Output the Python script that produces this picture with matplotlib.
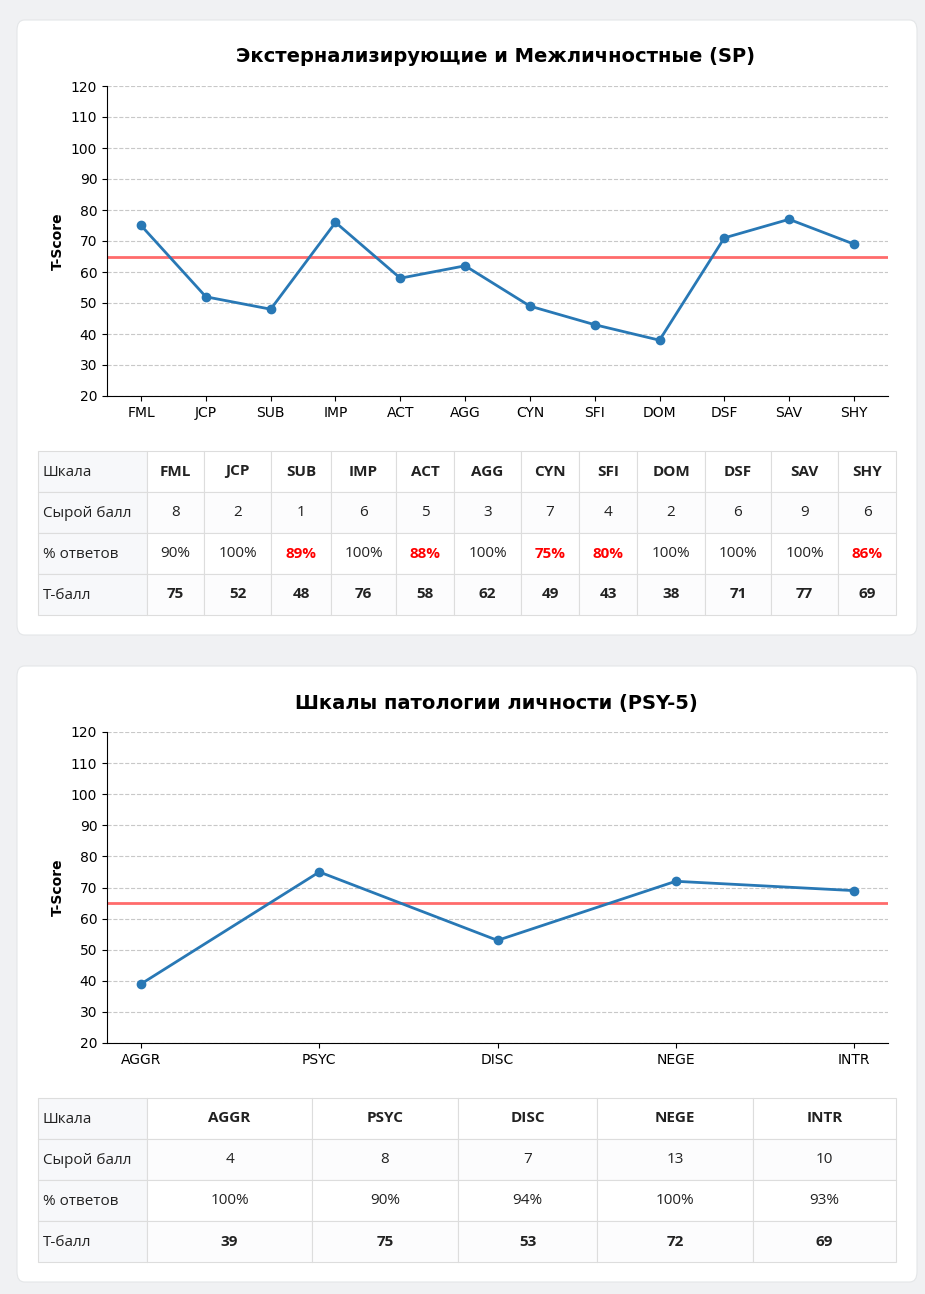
import matplotlib.pyplot as plt
from matplotlib.patches import FancyBboxPatch, Rectangle

W, H = 925, 1294

sp_scales = ['FML', 'JCP', 'SUB', 'IMP', 'ACT', 'AGG', 'CYN', 'SFI', 'DOM', 'DSF', 'SAV', 'SHY']
sp_raw = ['8', '2', '1', '6', '5', '3', '7', '4', '2', '6', '9', '6']
sp_pct = [90, 100, 89, 100, 88, 100, 75, 80, 100, 100, 100, 86]
sp_t = [75, 52, 48, 76, 58, 62, 49, 43, 38, 71, 77, 69]

psy_scales = ['AGGR', 'PSYC', 'DISC', 'NEGE', 'INTR']
psy_raw = ['4', '8', '7', '13', '10']
psy_pct = [100, 90, 94, 100, 93]
psy_t = [39, 75, 53, 72, 69]

row_labels = ['Шкала', 'Сырой балл', '% ответов', 'Т-балл']
red_pct = {'SUB', 'ACT', 'CYN', 'SFI', 'SHY'}

fig = plt.figure(figsize=(W / 100, H / 100), dpi=100)
fig.patch.set_facecolor('#f0f1f3')


def fx(x):
    return x / W


def fy(y):
    return 1 - y / H


def card(y0, y1):
    p = FancyBboxPatch((fx(17), fy(y1)), fx(900), (y1 - y0) / H,
                       boxstyle='round,pad=0,rounding_size=0.008',
                       transform=fig.transFigure, fc='white', ec='#e4e6e8', lw=0.8)
    fig.patches.append(p)


def chart(top, bottom, names, vals):
    ax = fig.add_axes([fx(107), fy(bottom), fx(888) - fx(107), (bottom - top) / H])
    ax.set_zorder(2)
    ax.patch.set_alpha(0)
    n = len(names)
    spacing = (852 - 141) / (n - 1)
    m = 34 / spacing
    ax.set_xlim(-m, n - 1 + m)
    ax.set_ylim(20, 120)
    ax.set_yticks(range(20, 121, 10))
    ax.set_xticks(range(n))
    ax.set_xticklabels(names)
    ax.grid(axis='y', ls='--', color='#c8c8c8', lw=0.8)
    ax.set_axisbelow(True)
    ax.axhline(65, color='#ff6b6b', lw=2)
    ax.plot(range(n), vals, color='#2878b5', lw=2, marker='o', ms=6)
    for s in ['top', 'right']:
        ax.spines[s].set_visible(False)
    ax.tick_params(labelsize=10)
    ax.set_ylabel('T-Score', fontsize=10, fontweight='bold')
    return ax


def table(top, cols, names, raw, pct, tvals, red):
    rh = 41
    tf = ['Open Sans', 'DejaVu Sans']
    for r in range(4):
        y = top + r * rh
        for c in range(len(cols) - 1):
            x0, x1 = cols[c], cols[c + 1]
            fc = '#f7f8fa' if (c == 0 or r in (1, 3)) else 'white'
            if c > 0 and r in (1, 3):
                fc = '#fcfcfd'
            fig.patches.append(Rectangle((fx(x0), fy(y + rh)), fx(x1 - x0), rh / H,
                                         transform=fig.transFigure, fc=fc,
                                         ec='#dddddd', lw=0.8))
            cx = (x0 + x1) / 2
            if c == 0:
                fig.text(fx(x0 + 5), fy(y + rh / 2 + 1), row_labels[r], fontsize=11,
                         va='center', ha='left', family=tf, color='#222222')
                continue
            i = c - 1
            color = '#222222'
            weight = 'normal'
            if r == 0:
                s = names[i]; weight = 'bold'
            elif r == 1:
                s = raw[i]
            elif r == 2:
                s = f'{pct[i]}%'
                if names[i] in red:
                    color = 'red'; weight = 'bold'
            else:
                s = str(tvals[i]); weight = 'bold'
            fig.text(fx(cx), fy(y + rh / 2), s, fontsize=11, va='center', ha='center',
                     family=tf, color=color, fontweight=weight)


card(20, 635)
card(666, 1282)

chart(86, 396, sp_scales, sp_t)
fig.text(fx(496), fy(57), 'Экстернализирующие и Межличностные (SP)', ha='center',
         va='center', fontsize=14, fontweight='bold')
table(451, [38, 147, 204, 271, 331, 396, 454, 521, 579, 637, 705, 771, 838, 896],
      sp_scales, sp_raw, sp_pct, sp_t, red_pct)

chart(732, 1043, psy_scales, psy_t)
fig.text(fx(496), fy(703), 'Шкалы патологии личности (PSY-5)', ha='center',
         va='center', fontsize=14, fontweight='bold')
table(1098, [38, 147, 312, 458, 597, 753, 896],
      psy_scales, psy_raw, psy_pct, psy_t, set())

fig.savefig('out.png', dpi=100, facecolor=fig.get_facecolor())
